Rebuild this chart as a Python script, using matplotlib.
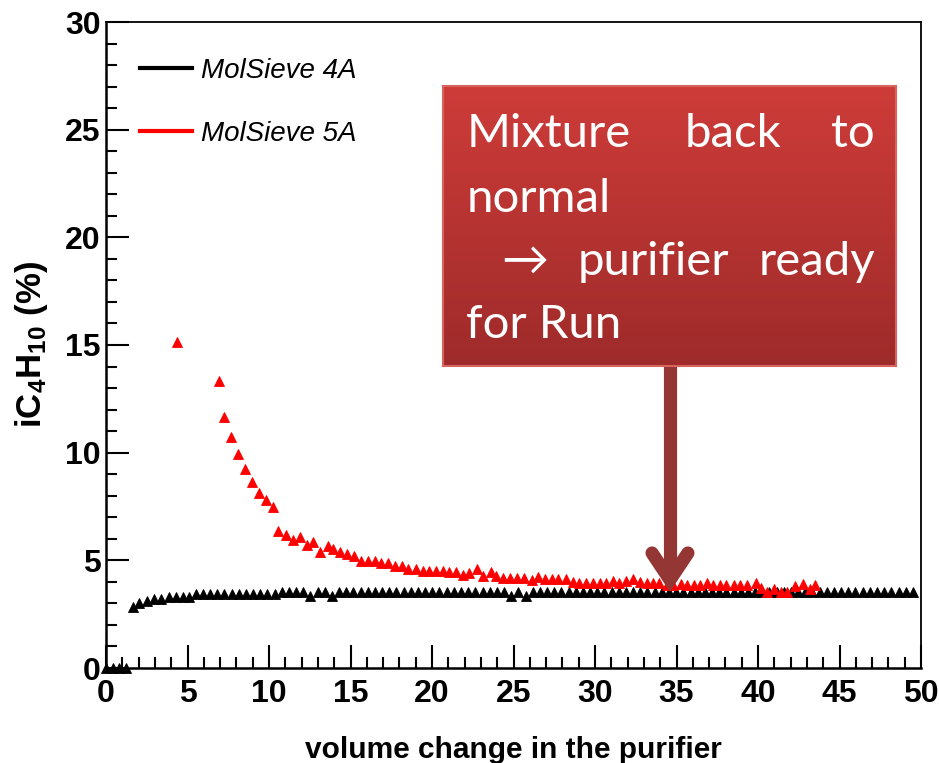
import matplotlib
matplotlib.use('Agg')
import matplotlib.pyplot as plt
from matplotlib.lines import Line2D
from matplotlib.ticker import MultipleLocator
import numpy as np

# ---------------- data ----------------
black_x = [0.0, 0.4, 0.8, 1.2, 1.65, 2.05, 2.5, 2.95, 3.4, 3.85, 4.3, 4.7, 5.1,
           5.5, 5.94, 6.38, 6.82, 7.26, 7.70, 8.14, 8.58, 9.02, 9.46, 9.90,
           10.34, 10.78, 11.22, 11.66, 12.10, 12.54, 12.98, 13.42, 13.86, 14.30,
           14.74, 15.18, 15.62, 16.06, 16.50, 16.94, 17.38, 17.82, 18.26, 18.70,
           19.14, 19.58, 20.02, 20.46, 20.90, 21.34, 21.78, 22.22, 22.66, 23.10,
           23.54, 23.98, 24.42, 24.86, 25.30, 25.74, 26.18, 26.62, 27.06, 27.50,
           27.94, 28.38, 28.82, 29.26, 29.70, 30.14, 30.58, 31.02, 31.46, 31.90,
           32.34, 32.78, 33.22, 33.66, 34.10, 34.54, 34.98, 35.42, 35.86, 36.30,
           36.74, 37.18, 37.62, 38.06, 38.50, 38.94, 39.38, 39.82, 40.26, 40.70,
           41.14, 41.58, 42.02, 42.46, 42.90, 43.34, 43.78, 44.22, 44.66, 45.10,
           45.54, 45.98, 46.42, 46.86, 47.30, 47.74, 48.18, 48.62, 49.06, 49.50]
black_y = [0.0, 0.0, 0.0, 0.0, 2.85, 3.0, 3.13, 3.19, 3.19, 3.3, 3.3, 3.28, 3.28,
           3.42, 3.42, 3.42, 3.42, 3.42, 3.42, 3.42, 3.42, 3.42, 3.42, 3.42,
           3.42, 3.52, 3.52, 3.52, 3.52, 3.35, 3.52, 3.52, 3.35, 3.52,
           3.52, 3.52, 3.52, 3.52, 3.52, 3.52, 3.52, 3.52, 3.52, 3.52,
           3.52, 3.52, 3.52, 3.52, 3.52, 3.52, 3.52, 3.52, 3.52, 3.52,
           3.52, 3.52, 3.52, 3.35, 3.52, 3.35, 3.52, 3.52, 3.52, 3.52,
           3.52, 3.52, 3.52, 3.52, 3.52, 3.52, 3.52, 3.52, 3.52, 3.52,
           3.52, 3.52, 3.52, 3.52, 3.52, 3.52, 3.52, 3.52, 3.52, 3.52,
           3.52, 3.52, 3.52, 3.52, 3.52, 3.52, 3.52, 3.52, 3.52, 3.52,
           3.52, 3.52, 3.52, 3.52, 3.52, 3.52, 3.52, 3.52, 3.52, 3.52,
           3.52, 3.52, 3.52, 3.52, 3.52, 3.52, 3.52, 3.52, 3.52, 3.52]

red_x = [4.33, 6.93, 7.26, 7.65, 8.10, 8.53, 8.96, 9.39, 9.82, 10.26, 10.57,
         11.02, 11.45, 11.88, 12.31, 12.72, 13.15, 13.60, 13.95, 14.36, 14.78,
         15.21, 15.62, 16.09, 16.50, 16.90, 17.32, 17.73, 18.14, 18.55, 19.00,
         19.43, 19.83, 20.25, 20.65, 21.06, 21.47, 21.88, 22.30, 22.74, 23.15,
         23.60, 23.95, 24.37, 24.78, 25.23, 25.64, 26.12, 26.52, 26.93, 27.35,
         27.75, 28.20, 28.63, 29.04, 29.45, 29.90, 30.30, 30.70, 31.08, 31.50,
         31.90, 32.35, 32.76, 33.17, 33.55, 33.95, 34.40, 34.80, 35.25, 35.67,
         36.05, 36.45, 36.85, 37.25, 37.65, 38.05, 38.50, 38.90, 39.30, 39.88,
         40.20, 40.57, 41.00, 41.40, 41.80, 42.30, 42.76, 43.20, 43.50]
red_y = [15.16, 13.33, 11.67, 10.71, 9.93, 9.23, 8.65, 8.14, 7.80, 7.49, 6.38,
         6.18, 5.96, 6.08, 5.71, 5.86, 5.39, 5.65, 5.53, 5.39, 5.29,
         5.22, 4.97, 4.97, 4.97, 4.86, 4.86, 4.74, 4.74, 4.60, 4.60,
         4.52, 4.52, 4.52, 4.52, 4.47, 4.47, 4.33, 4.42, 4.58, 4.27,
         4.44, 4.27, 4.17, 4.17, 4.19, 4.19, 4.09, 4.24, 4.12, 4.12,
         4.12, 4.12, 4.01, 3.96, 3.96, 3.96, 3.96, 3.96, 4.05, 3.96,
         4.05, 4.15, 4.01, 3.93, 3.93, 3.93, 3.86, 3.86, 3.90, 3.84,
         3.84, 3.86, 3.93, 3.86, 3.86, 3.86, 3.86, 3.86, 3.86, 3.96,
         3.70, 3.54, 3.65, 3.54, 3.54, 3.80, 3.90, 3.65, 3.84]

series_labels = ['MolSieve 4A', 'MolSieve 5A']
series_colors = ['#000000', '#ff0000']
x_ticks = [0, 5, 10, 15, 20, 25, 30, 35, 40, 45, 50]
y_ticks = [0, 5, 10, 15, 20, 25, 30]
x_label = 'volume change in the purifier'
y_label = r'iC$_\mathbf{4}$H$_\mathbf{10}$ (%)'
arrow_target = (34.6, 4.09)

# ---------------- style ----------------
plt.rcParams['font.family'] = ['Liberation Sans', 'DejaVu Sans']
plt.rcParams['mathtext.fontset'] = 'custom'
plt.rcParams['mathtext.rm'] = 'Liberation Sans:bold'
plt.rcParams['mathtext.bf'] = 'Liberation Sans:bold'
plt.rcParams['mathtext.it'] = 'Liberation Sans:bold:italic'

W, H = 939, 763
fig = plt.figure(figsize=(W / 100, H / 100), dpi=100)
fig.patch.set_facecolor('white')

def fx(px):
    return px / W

def fy(py):
    return 1 - py / H

ax = fig.add_axes([fx(106), fy(668), (921 - 106) / W, (668 - 22) / H])
ax.set_xlim(0, 50)
ax.set_ylim(0, 30)

ax.plot(black_x, black_y, linestyle='none', marker='^', ms=7,
        color=series_colors[0], mec=series_colors[0], mew=0.6, clip_on=False, zorder=3)
ax.plot(red_x, red_y, linestyle='none', marker='^', ms=7,
        color=series_colors[1], mec=series_colors[1], mew=0.6, clip_on=False, zorder=4)

ax.set_xticks(x_ticks)
ax.set_yticks(y_ticks)
ax.xaxis.set_minor_locator(MultipleLocator(1))
ax.yaxis.set_minor_locator(MultipleLocator(1))
ax.tick_params(axis='both', which='major', direction='in', length=16.5, width=1.5,
               labelsize=23, top=False, right=False)
ax.tick_params(axis='both', which='minor', direction='in', length=8, width=1.5,
               top=False, right=False)
ax.tick_params(axis='x', which='major', pad=8)
ax.tick_params(axis='y', which='major', pad=4)
for lab in ax.get_xticklabels() + ax.get_yticklabels():
    lab.set_fontweight('bold')

for side in ['left', 'bottom']:
    ax.spines[side].set_linewidth(1.8)
for side in ['top', 'right']:
    ax.spines[side].set_linewidth(1.3)

ax.set_xlabel(x_label, fontsize=21.5, fontweight='bold')
ax.xaxis.set_label_coords(0.5, (668 - 750) / 646)
ax.xaxis.label.set_va('center')
ax.set_ylabel(y_label, fontsize=25, fontweight='bold')
ax.yaxis.set_label_coords((31 - 106) / 815, 0.5)
ax.yaxis.label.set_va('center')

handles = [Line2D([], [], color=c, lw=3) for c in series_colors]
leg = ax.legend(handles, series_labels, loc='upper left', frameon=False,
                prop={'style': 'italic', 'size': 20}, handlelength=1.9,
                handletextpad=0.3, labelspacing=1.35,
                bbox_to_anchor=(0.0275, 0.962), borderaxespad=0)

# ---------------- annotation box ----------------
bx0, by0, bx1, by1 = 443, 86, 896, 366
box_ax = fig.add_axes([fx(bx0), fy(by1), (bx1 - bx0) / W, (by1 - by0) / H])
top_c = np.array([206, 60, 57]) / 255
bot_c = np.array([158, 43, 42]) / 255
t = np.linspace(0, 1, 200)[:, None, None]
grad = top_c[None, None, :] * (1 - t) + bot_c[None, None, :] * t
box_ax.imshow(grad, aspect='auto', extent=[0, 1, 0, 1], interpolation='bilinear')
box_ax.set_xticks([])
box_ax.set_yticks([])
for sp in box_ax.spines.values():
    sp.set_color('#d86460')
    sp.set_linewidth(1.5)

tfont = dict(color='white', fontsize=34, family=['Lato', 'DejaVu Sans'], va='baseline')
fig.text(fx(467), fy(147), 'Mixture', ha='left', **tfont)
fig.text(fx(733), fy(147), 'back', ha='center', **tfont)
fig.text(fx(875), fy(147), 'to', ha='right', **tfont)
fig.text(fx(467), fy(212), 'normal', ha='left', **tfont)
fig.text(fx(525), fy(275), '\u2192', ha='center', **tfont)
fig.text(fx(653), fy(275), 'purifier', ha='center', **tfont)
fig.text(fx(875), fy(275), 'ready', ha='right', **tfont)
fig.text(fx(466), fy(338), 'for Run', ha='left', **tfont)

# ---------------- arrow ----------------
arrow_c = '#943634'
box_bottom_y = (668 - by1) / 646 * 30
ax.plot([arrow_target[0], arrow_target[0]], [box_bottom_y, arrow_target[1]],
        color=arrow_c, lw=9.5, solid_capstyle='butt', clip_on=False, zorder=6)
ax.plot([arrow_target[0] - 1.1, arrow_target[0], arrow_target[0] + 1.1],
        [arrow_target[1] + 1.25, arrow_target[1], arrow_target[1] + 1.25],
        color=arrow_c, lw=9.5, solid_capstyle='round', solid_joinstyle='miter',
        clip_on=False, zorder=6)

fig.savefig('out.png', dpi=100)
